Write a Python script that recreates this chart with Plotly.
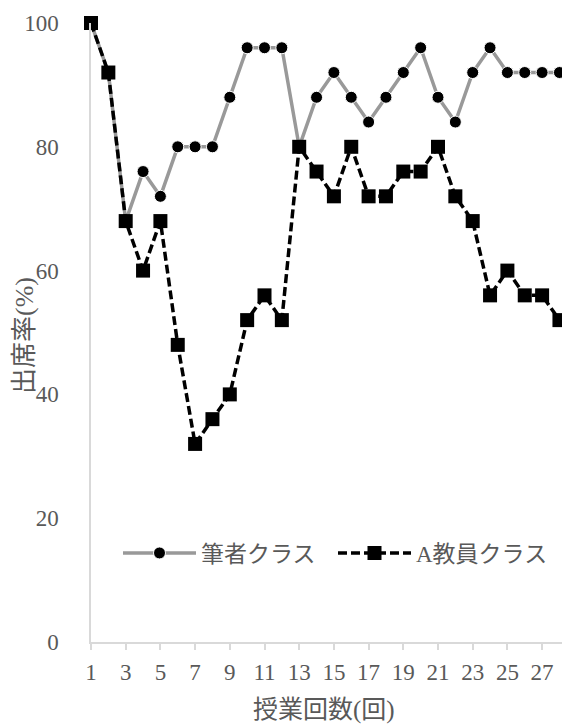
import plotly.graph_objects as go

lessons = list(range(1, 29))
author_class = [100, 92, 68, 76, 72, 80, 80, 80, 88, 96, 96, 96, 80, 88,
                92, 88, 84, 88, 92, 96, 88, 84, 92, 96, 92, 92, 92, 92]
teacher_a_class = [100, 92, 68, 60, 68, 48, 32, 36, 40, 52, 56, 52, 80, 76,
                   72, 80, 72, 72, 76, 76, 80, 72, 68, 56, 60, 56, 56, 52]
x_tick_vals = list(range(1, 28, 2))
x_tick_text = [str(v) for v in x_tick_vals]
y_tick_vals = [0, 20, 40, 60, 80, 100]
series_names = ["筆者クラス", "A教員クラス"]
x_title = "授業回数(回)"
y_title = "出席率(%)"

FONT = "Liberation Serif, 'Noto Sans CJK JP', serif"
TXT = "#595959"
AX = "#d9d9d9"

W, H = 562, 724
L, T = 91, 23
PB = 642
PW, PH = W - L, PB - T


def px(xp):
    return (xp - L) / PW


def py(yp):
    return (PB - yp) / PH


fig = go.Figure()
fig.add_trace(go.Scatter(
    x=lessons, y=author_class, name=series_names[0], mode="lines+markers",
    line=dict(color="#999999", width=3.5),
    marker=dict(symbol="circle", size=12, color="black", line=dict(color="white", width=1)),
    cliponaxis=False,
))
fig.add_trace(go.Scatter(
    x=lessons, y=teacher_a_class, name=series_names[1], mode="lines+markers",
    line=dict(color="black", width=3.5, dash="9px,4px"),
    marker=dict(symbol="square", size=14, color="black"),
    cliponaxis=False,
))

fig.update_layout(
    width=W, height=H,
    margin=dict(l=L, r=0, t=T, b=H - PB),
    paper_bgcolor="white", plot_bgcolor="white",
    font=dict(family=FONT, size=23, color=TXT),
    showlegend=True,
    legend=dict(
        orientation="h", x=px(118), xanchor="left",
        y=py(553), yanchor="middle",
        bgcolor="rgba(0,0,0,0)", itemwidth=73,
        entrywidth=127, entrywidthmode="pixels",
        font=dict(family=FONT, size=23, color=TXT),
    ),
    xaxis=dict(
        range=[1, 1 + PW / 17.35], showgrid=False, zeroline=False,
        showline=True, linecolor=AX, linewidth=1.5,
        tickmode="array", tickvals=x_tick_vals, ticktext=x_tick_text,
        ticks="outside", ticklen=6, tickcolor=AX, tickwidth=1.5,
        ticklabelstandoff=3,
        tickfont=dict(family=FONT, size=23, color=TXT),
    ),
    yaxis=dict(
        range=[0, 100], showgrid=False, zeroline=False,
        showline=True, linecolor=AX, linewidth=1.5,
        tickmode="array", tickvals=y_tick_vals,
        ticks="", ticklabelstandoff=26,
        tickfont=dict(family=FONT, size=23, color=TXT),
    ),
    annotations=[
        dict(text=x_title, xref="paper", yref="paper",
             x=px(324), y=py(710),
             xanchor="center", yanchor="middle", showarrow=False,
             font=dict(family=FONT, size=25, color=TXT)),
        dict(text=y_title, xref="paper", yref="paper",
             x=px(24), y=py(336), textangle=-90,
             xanchor="center", yanchor="middle", showarrow=False,
             font=dict(family=FONT, size=26, color=TXT)),
    ],
)

fig.write_html("out.html", config={"displayModeBar": False},
               post_script="document.body.style.margin='0';")
